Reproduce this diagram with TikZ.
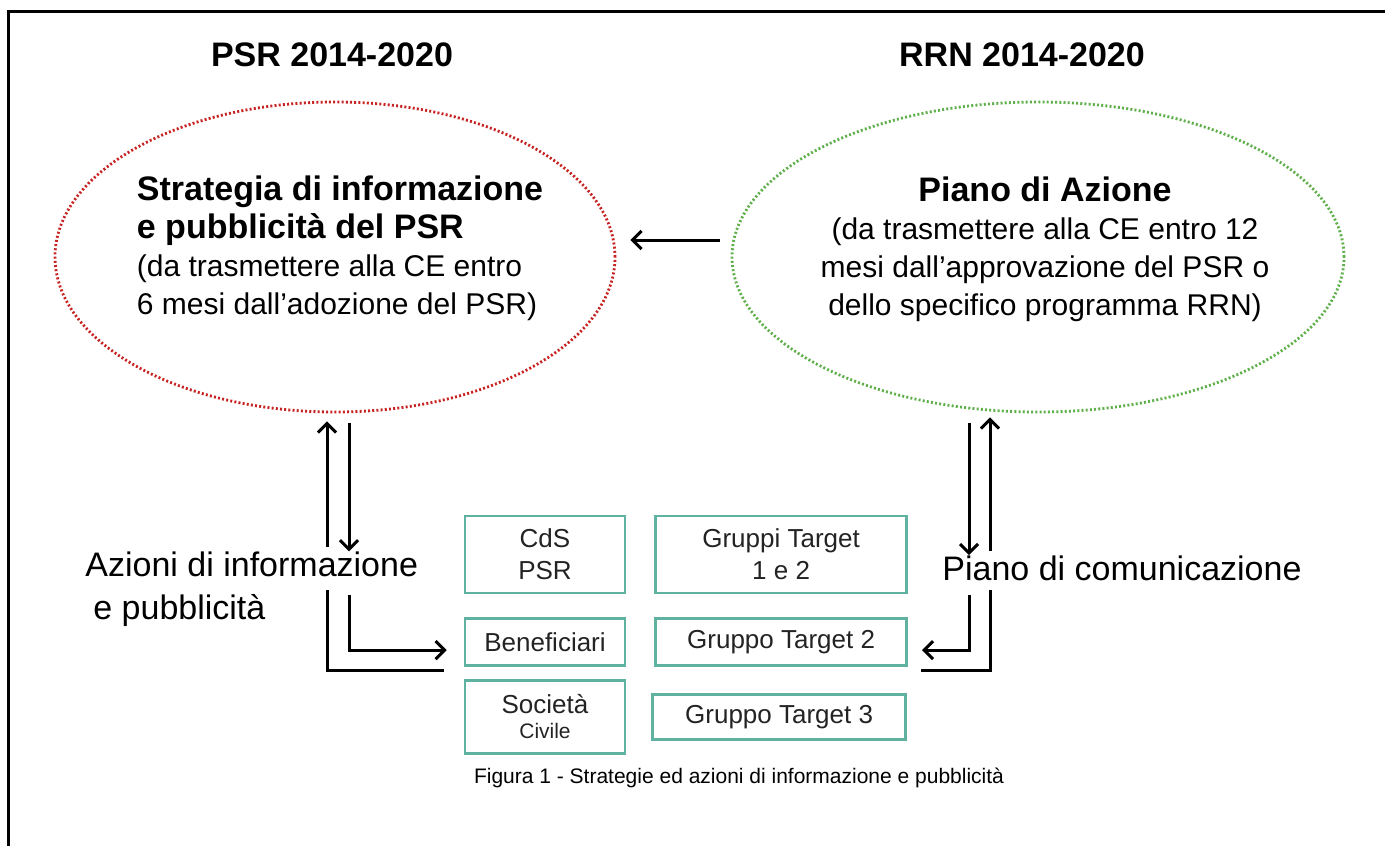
\documentclass[tikz,border=0pt]{standalone}
\usepackage{fontspec}
\setmainfont{Liberation Sans}
\usetikzlibrary{shapes.geometric, arrows.meta, positioning}
\definecolor{psrred}{RGB}{200,35,35}
\definecolor{rrngreen}{RGB}{95,175,75}
\definecolor{boxteal}{RGB}{95,178,160}
\definecolor{inkgray}{RGB}{35,35,35}

\begin{document}
\begin{tikzpicture}[x=0.5pt, y=-0.5pt,
  heading/.style={font=\fontsize{17}{20}\selectfont\bfseries},
  bubble/.style={ellipse, draw=#1, line width=1.4pt, dash pattern=on 1pt off 1.1pt,
    minimum height=155pt, inner sep=0pt},
  tbox/.style={rectangle, draw=boxteal, line width=1.3pt, minimum width=80pt,
    text=inkgray, font=\fontsize{13}{16}\selectfont, align=center, inner sep=0pt},
  arrow/.style={-{Straight Barb[length=4.5pt,width=9pt]}, line width=1.5pt},
  plainline/.style={line width=1.5pt},
  pageframe/.style={line width=1.5pt}
]
\useasboundingbox (0,0) rectangle (1385,846);
\draw[pageframe] (8,846) -- (8,11) -- (1385,11);

% Programme titles
\node[heading] (psr) at (332,55) {PSR 2014-2020};
\node[heading] (rrn) at (1022,55) {RRN 2014-2020};

% Dotted ellipses
\node[bubble=psrred, minimum width=280pt] (strategia) at (335,257) {};
\node[bubble=rrngreen, minimum width=306pt] (piano) at (1038,257) {};

\node[font=\fontsize{15}{19}\selectfont, align=left] (strategiatxt) at (340,248)
  {{\fontsize{17}{19}\selectfont\bfseries Strategia di informazione}\\
   {\fontsize{17}{19}\selectfont\bfseries e pubblicità del PSR}\\
   (da trasmettere alla CE entro\\
   6 mesi dall'adozione del PSR)};
\node[font=\fontsize{15}{19}\selectfont, align=center] (pianotxt) at (1045,249)
  {{\fontsize{17}{19}\selectfont\bfseries Piano di Azione}\\
   (da trasmettere alla CE entro 12\\
   mesi dall'approvazione del PSR o\\
   dello specifico programma RRN)};

\draw[arrow] ([xshift=-5.5pt,yshift=8.5pt]piano.west) -- ([xshift=7pt,yshift=8.5pt]strategia.east);

% Side labels
\node[font=\fontsize{17}{21.5}\selectfont, align=left, anchor=west, inner sep=0pt] (azioni) at (85,589)
  {Azioni di informazione\\\hspace*{4pt}e pubblicità};
\node[font=\fontsize{17}{20}\selectfont, anchor=west, inner sep=0pt] (comunicazione) at (942,568)
  {Piano di comunicazione};

% Target boxes
\node[tbox, minimum height=38.5pt] (cds) at (545,554.5) {CdS\\PSR};
\node[tbox, minimum height=23.5pt, below=11.5pt of cds] (benef) {Beneficiari};
\node[tbox, minimum height=36.5pt, below=6pt of benef, font=\fontsize{13}{12.5}\selectfont] (civile)
  {Società\\{\fontsize{10.5}{12.5}\selectfont Civile}};
\node[tbox, minimum width=125.5pt, minimum height=38.5pt, right=14pt of cds] (gt12) {Gruppi Target\\1 e 2};
\node[tbox, minimum width=125.5pt, minimum height=23.5pt, right=14pt of benef] (gt2) {Gruppo Target 2};
\node[tbox, minimum width=126.5pt, minimum height=22.5pt, right=12.5pt of civile] (gt3) {Gruppo Target 3};

% Flows on the PSR side
\coordinate (psrout) at (327,590);
\coordinate (psrin) at (349,595);
\draw[arrow, shorten <=2pt, shorten >=4pt] (psrout |- azioni.north) -- (psrout |- strategia.south);
\draw[arrow, shorten <=5pt] (psrin |- strategia.south) -- (psrin |- azioni.north);
\draw[arrow] (psrin) |- ([xshift=-8.5pt,yshift=-4pt]benef.west);
\draw[plainline] (psrout) |- ([xshift=-10pt,yshift=-14pt]benef.west);

% Flows on the RRN side
\coordinate (rrnin) at (969,595);
\coordinate (rrnout) at (990,590);
\draw[arrow, shorten <=5pt] (rrnin |- piano.south) -- (rrnin |- comunicazione.north);
\draw[arrow, shorten <=2pt, shorten >=2pt] (rrnout |- comunicazione.north) -- (rrnout |- piano.south);
\draw[arrow] (rrnin) |- ([xshift=7pt,yshift=-4pt]gt2.east);
\draw[plainline] (rrnout) |- ([xshift=6.5pt,yshift=-14pt]gt2.east);

% Caption
\node[font=\fontsize{10.5}{12}\selectfont] (caption) at (739,778)
  {Figura 1 - Strategie ed azioni di informazione e pubblicità};
\end{tikzpicture}
\end{document}
